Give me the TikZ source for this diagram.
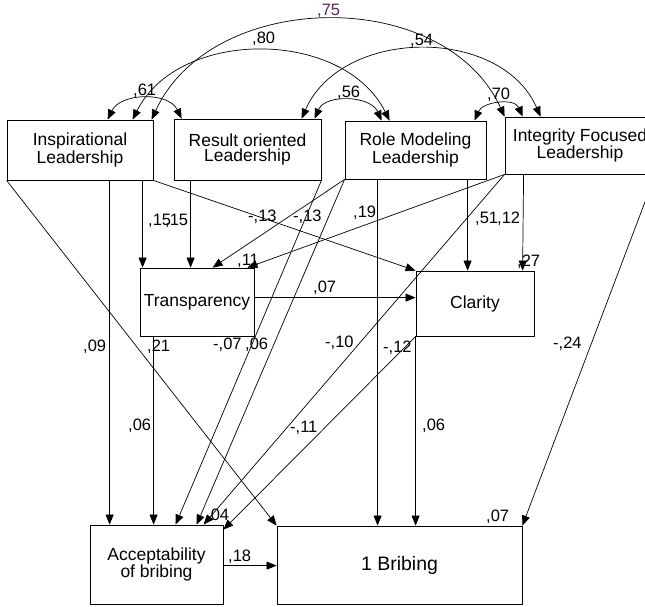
\documentclass[tikz,border=0pt]{standalone}
\usepackage{fontspec}
\setmainfont{Liberation Sans}
\usetikzlibrary{arrows.meta,calc}
\definecolor{corpurple}{RGB}{96,32,96}
\begin{document}
\begin{tikzpicture}[x=1pt,y=-1pt,
  box/.style={draw=black,line width=0.8pt,inner sep=0pt,align=center,font=\fontsize{17.5}{15.5}\selectfont},
  lab/.style={anchor=base west,inner sep=0pt,font=\fontsize{16.5}{18}\selectfont},
  conn/.style={-{Triangle[length=10pt,width=8pt]},line width=0.7pt},
  cov/.style={{Triangle[length=10pt,width=8pt]}-{Triangle[length=10pt,width=8pt]},line width=0.7pt}]
\clip (0,0) rectangle (645,606);
% boxes
\node[box,minimum width=146pt,minimum height=60pt] (insp) at (80,150) {Inspirational\\Leadership};
\node[box,minimum width=147pt,minimum height=61pt] (result) at (247.5,149.5) {Result oriented\\Leadership};
\node[box,minimum width=141pt,minimum height=58pt] (role) at (415.5,150) {Role Modeling\\Leadership};
\node[box,minimum width=150pt,minimum height=57pt] (integ) at (580,145.5) {Integrity Focused\\Leadership};
\node[box,minimum width=114pt,minimum height=68pt] (transp) at (197,302) {Transparency};
\node[box,minimum width=118pt,minimum height=65pt] (clarity) at (475,303.5) {Clarity};
\node[box,minimum width=133pt,minimum height=79pt] (accept) at (156.5,564.5) {Acceptability\\of bribing};
\node[box,minimum width=245pt,minimum height=78pt,font=\fontsize{19.5}{22}\selectfont] (bribing) at (399.5,565) {1 Bribing};
% covariances
\draw[cov] ($(insp.north west)+(101,0)$) .. controls +(13,-27) and +(-13,-27) .. ($(result.north west)+(8,0)$);
\draw[cov] ($(insp.north west)+(126,0)$) .. controls +(46,-92) and +(-46,-92) .. ($(role.north west)+(45,0)$);
\draw[cov] ($(insp.north west)+(145,0)$) .. controls +(60,-131) and +(-60,-131) .. ($(integ.north west)+(0,0)$);
\draw[cov] ($(result.north west)+(141,0)$) .. controls +(11,-25) and +(-11,-25) .. ($(role.north west)+(37,0)$);
\draw[cov] ($(result.north west)+(128,0)$) .. controls +(40,-91) and +(-40,-91) .. ($(integ.north west)+(36,0)$);
\draw[cov] ($(role.north west)+(130,0)$) .. controls +(8,-19) and +(-8,-19) .. ($(integ.north west)+(18,0)$);
% paths
\draw[conn] ($(insp.south west)+(136,0)$) -- ($(transp.north west)+(3,0)$);
\draw[conn] ($(insp.south west)+(103,0)$) -- ($(accept.north west)+(20,0)$);
\draw[conn] (insp.south west) -- (bribing.north west);
\draw[conn] (insp.south east) -- (clarity.north west);
\draw[conn] ($(result.south west)+(17,0)$) -- ($(transp.north west)+(51,0)$);
\draw[conn] (result.south east) -- ($(accept.north west)+(86,0)$);
\draw[conn] (role.south west) -- ($(transp.north west)+(73,0)$);
\draw[conn] (role.south west) -- ($(accept.north west)+(107,0)$);
\draw[conn] ($(role.south west)+(33,0)$) -- ($(bribing.north west)+(101,0)$);
\draw[conn] ($(role.south west)+(123,0)$) -- ($(clarity.north west)+(52,0)$);
\draw[conn] (integ.south west) -- ($(transp.north east)+(-7,0)$);
\draw[conn] (integ.south west) -- ($(accept.north west)+(114,0)$);
\draw[conn] ($(integ.south west)+(19,0)$) -- ($(clarity.north west)+(107,0)$);
\draw[conn] (integ.south east) -- (bribing.north east);
\draw[conn] ($(transp.north east)+(0,30)$) -- ($(clarity.north west)+(0,27)$);
\draw[conn] ($(transp.south west)+(14,0)$) -- ($(accept.north west)+(64,0)$);
\draw[conn] (clarity.south west) -- ($(accept.north east)+(0,5)$);
\draw[conn] (clarity.south west) -- ($(bribing.north west)+(139,0)$);
\draw[conn] ($(accept.north east)+(0,41)$) -- ($(bribing.north west)+(0,40)$);
% labels
\node[lab,text=corpurple] (c75) at (317,15) {,75};
\node[lab] (c80) at (252,43) {,80};
\node[lab] (c54) at (410,45) {,54};
\node[lab] (c61) at (133,95) {,61};
\node[lab] (c56) at (337,97) {,56};
\node[lab] (c70) at (487,99) {,70};
\node[lab] (p15a) at (148,225) {,15};
\node[lab] (p15b) at (165,225) {,15};
\node[lab] (p13a) at (248,221) {-,13};
\node[lab] (p13b) at (293,221) {-,13};
\node[lab] (p19) at (353,217) {,19};
\node[lab] (r11) at (237,265) {,11};
\node[lab] (p51) at (475,223) {,51};
\node[lab] (p12) at (497,223) {,12};
\node[lab] (r27) at (517,266) {,27};
\node[lab] (p07) at (313,292) {,07};
\node[lab] (p09) at (83,351) {,09};
\node[lab] (p21) at (147,351) {,21};
\node[lab] (p07n) at (213,349) {-,07};
\node[lab] (p06a) at (245,349) {,06};
\node[lab] (p10) at (325,347) {-,10};
\node[lab] (p12n) at (383,352) {-,12};
\node[lab] (p24) at (553,348) {-,24};
\node[lab] (p06b) at (128,430) {,06};
\node[lab] (p11n) at (290,432) {-,11};
\node[lab] (p06c) at (422,430) {,06};
\node[lab] (r04) at (206,520) {,04};
\node[lab] (r07) at (486,521) {,07};
\node[lab] (p18) at (228,561) {,18};
\end{tikzpicture}
\end{document}
